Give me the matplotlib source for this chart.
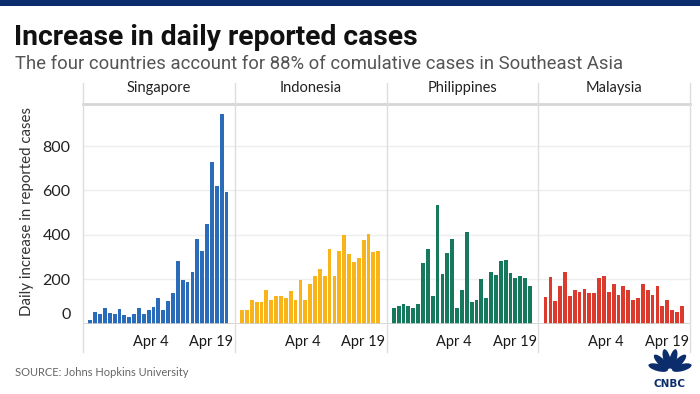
import numpy as np
import matplotlib
matplotlib.use("Agg")
import matplotlib.pyplot as plt
from matplotlib.lines import Line2D
from matplotlib.patches import Rectangle, Ellipse
from matplotlib.transforms import ScaledTranslation

# daily new cases, Mar 22 - Apr 19
countries = ["Singapore", "Indonesia", "Philippines", "Malaysia"]
singapore = [18, 51, 42, 68, 48, 42, 65, 39, 30, 42, 68, 42, 60, 74, 116,
             60, 102, 137, 284, 194, 189, 232, 380, 329, 447, 729, 620, 943, 594]
indonesia = [62, 62, 105, 99, 99, 152, 107, 125, 125, 113, 147, 107, 194, 104, 177,
             214, 245, 215, 335, 215, 326, 400, 313, 278, 295, 377, 403, 322, 328]
philippines = [68, 77, 86, 81, 68, 90, 271, 338, 123, 535, 223, 317, 380, 72, 150,
               411, 98, 104, 202, 116, 232, 218, 283, 287, 227, 206, 214, 206, 167]
malaysia = [120, 211, 102, 167, 232, 123, 153, 144, 155, 137, 137, 206, 215, 144, 176,
            128, 167, 153, 105, 114, 180, 149, 128, 167, 81, 107, 63, 51, 81]
series = [singapore, indonesia, philippines, malaysia]
colors = ["#2a6cb9", "#f9b41a", "#16795b", "#dc3a2c"]

day_ticks = [12.4, 24.9]
day_labels = ["Apr 4", "Apr 19"]
y_ticks = [0, 200, 400, 600, 800]

W, H = 700, 394


def fx(px):
    return px / W


def fy(py):
    return 1 - py / H


fig = plt.figure(figsize=(7, 3.94), dpi=100)
fig.patch.set_facecolor("white")

# navy strip at the top
fig.add_artist(Rectangle((0, fy(6)), 1, 6 / H, transform=fig.transFigure,
                         color="#0b2d6b", lw=0))

fig.text(fx(14), fy(45), "Increase in daily reported cases",
         family="Roboto", weight="bold",
         fontsize=20.3, color="#111111", va="baseline")
fig.text(fx(15), fy(69),
         "The four countries account for 88% of comulative cases in Southeast Asia",
         family="Roboto", fontsize=13.3, color="#555555", va="baseline")

left, right = 83, 690
top, base = 104, 323.5
pw = (right - left) / 4

axes = []
for i, (name, vals, col) in enumerate(zip(countries, series, colors)):
    ax = fig.add_axes([fx(left + i * pw), fy(base), pw / W, (base - top) / H])
    x = np.arange(len(vals))
    ax.bar(x, vals, width=0.78, color=col, zorder=3)
    ax.set_xlim(-1.5, 29.7)
    ax.set_ylim(0, 990)
    for v in y_ticks[1:]:
        ax.axhline(v, color="#eeeeee", lw=1, zorder=1)
    ax.axhline(0, color="#cfcfcf", lw=1.2, zorder=4)
    for s in ax.spines.values():
        s.set_visible(False)
    ax.set_xticks(day_ticks)
    ax.set_xticklabels(day_labels, family="Lato", fontsize=10.5, color="#1a1a1a")
    ax.tick_params(axis="x", length=0, pad=8)
    ax.set_yticks(y_ticks)
    if i == 0:
        ax.set_yticklabels([str(v) for v in y_ticks], family="Lato",
                           fontsize=11.5, color="#222222")
        ax.tick_params(axis="y", length=0, pad=9)
        lab0 = ax.get_yticklabels()[0]
        lab0.set_transform(lab0.get_transform()
                           + ScaledTranslation(0, 0.1, fig.dpi_scale_trans))
    else:
        ax.tick_params(axis="y", length=0, labelleft=False)
    ax.text(0.5, 1.04, name, transform=ax.transAxes, ha="center", va="bottom",
            family="Lato", fontsize=10.5, color="#222222")
    axes.append(ax)

# panel frame: header rule and separators
fig.add_artist(Line2D([fx(left), fx(right)], [fy(top), fy(top)],
                      color="#d6d6d6", lw=2))
for i in range(5):
    xx = fx(left + i * pw)
    fig.add_artist(Line2D([xx, xx], [fy(83), fy(352)], color="#dddddd", lw=1))

fig.text(fx(27), fy(212), "Daily increase in reported cases", rotation=90,
         ha="center", va="center", family="Lato", fontsize=10.8, color="#333333")

fig.text(fx(15), fy(372), "SOURCE: Johns Hopkins University", family="Lato",
         fontsize=8, color="#666666", va="center")

# CNBC peacock
lg = fig.add_axes([fx(646), fy(392), 48 / W, 46 / H])
lg.set_xlim(-1, 1)
lg.set_ylim(-0.95, 1.0)
lg.set_aspect("equal")
lg.axis("off")
navy = "#0b2d6b"
for ang in np.linspace(15, 165, 6):
    r = np.radians(ang)
    lg.add_patch(Ellipse((0.52 * np.cos(r), 0.52 * np.sin(r) - 0.05), 0.85, 0.3,
                         angle=ang, color=navy, lw=0))
lg.text(0, -0.6, "CNBC", ha="center", va="center", family="DejaVu Sans",
        weight="bold", fontsize=7.5, color=navy)

fig.savefig("out.png", dpi=100)
